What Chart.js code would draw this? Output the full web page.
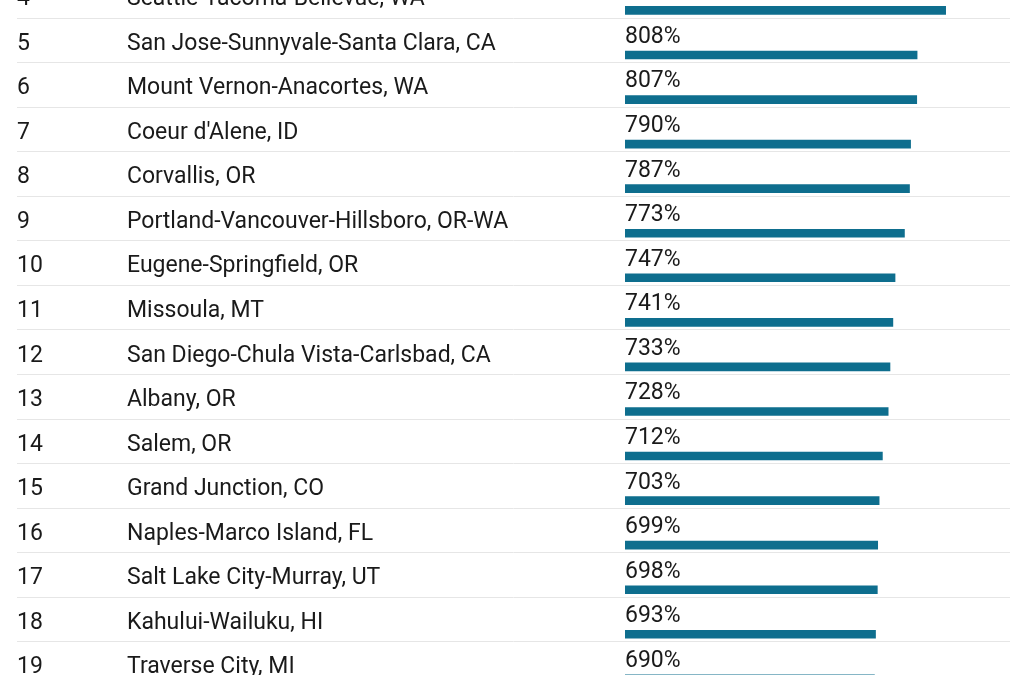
<!DOCTYPE html>
<html><head><meta charset="utf-8">
<script src="https://cdn.jsdelivr.net/npm/chart.js@4"></script>
<style>html,body{margin:0;padding:0;background:#fff;overflow:hidden;width:1024px;height:675px}
canvas{display:block;width:1024px;height:675px}</style></head>
<body><canvas id="c" width="1024" height="675"></canvas>
<script>
const ranks=[4,5,6,7,8,9,10,11,12,13,14,15,16,17,18,19];
const names=["Seattle-Tacoma-Bellevue, WA","San Jose-Sunnyvale-Santa Clara, CA","Mount Vernon-Anacortes, WA","Coeur d'Alene, ID","Corvallis, OR","Portland-Vancouver-Hillsboro, OR-WA","Eugene-Springfield, OR","Missoula, MT","San Diego-Chula Vista-Carlsbad, CA","Albany, OR","Salem, OR","Grand Junction, CO","Naples-Marco Island, FL","Salt Lake City-Murray, UT","Kahului-Wailuku, HI","Traverse City, MI"];
const values=[887,808,807,790,787,773,747,741,733,728,712,703,699,698,693,690];
const BAR_OFF=0.34;
const textPlugin={id:'txt',afterDatasetsDraw(ch){
  const c=ch.ctx,y=ch.scales.y,x=ch.scales.x;
  c.save();
  c.strokeStyle='#e6e6e6';c.lineWidth=1;
  ranks.forEach(r=>{const py=Math.round(y.getPixelForValue(r+0.5))+0.5;c.beginPath();c.moveTo(17,py);c.lineTo(1010,py);c.stroke();});
  c.fillStyle='#1a1a1a';c.font='23px Roboto';c.textBaseline='middle';
  ranks.forEach((r,i)=>{
    const py=y.getPixelForValue(r+0.09);
    c.textAlign='left';
    c.fillText(String(r),17,py);
    c.fillText(names[i],127,py);
    c.fillText(values[i]+'%',x.getPixelForValue(0),y.getPixelForValue(r-0.06));
  });
  c.restore();}};
new Chart(document.getElementById('c'),{
  type:'bar',
  data:{datasets:[{data:ranks.map((r,i)=>({x:values[i],y:r+BAR_OFF})),backgroundColor:'#0e6e8e',barThickness:8}]},
  options:{indexAxis:'y',responsive:false,animation:false,devicePixelRatio:1,
    layout:{padding:{left:625,right:14,top:0,bottom:0}},
    plugins:{legend:{display:false},tooltip:{enabled:false}},
    scales:{x:{type:'linear',min:0,max:1065,display:false,offset:false},
            y:{type:'linear',min:4.106,max:19.254,reverse:true,display:false,offset:false}}},
  plugins:[textPlugin]});
</script></body></html>
